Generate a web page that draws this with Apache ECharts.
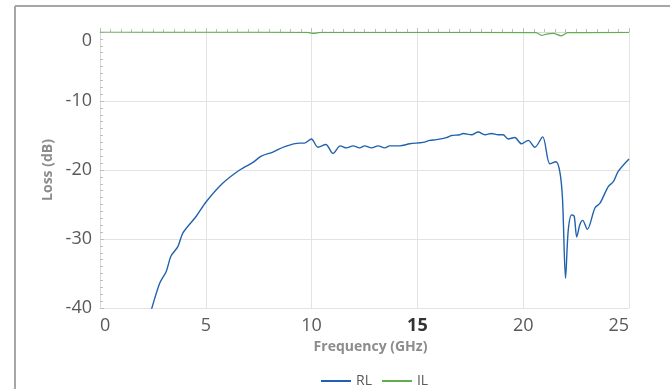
<!DOCTYPE html>
<html>
<head>
<meta charset="utf-8">
<script src="https://cdn.jsdelivr.net/npm/echarts@6/dist/echarts.min.js"></script>
<style>
  html, body { margin: 0; padding: 0; background: #fff; overflow: hidden; }
  #chart { width: 670px; height: 389px; }
</style>
</head>
<body>
<div id="chart"></div>
<script>
// RL trace (GHz, dB)
const rlFreq = [2.2, 2.45, 2.82, 3.13, 3.35, 3.68, 3.92, 4.55, 5.02, 5.81, 6.6, 7.23, 7.62, 8.17, 8.73, 9.44, 9.67,
  9.99, 10.3, 10.67, 11.01, 11.36, 11.65, 11.96, 12.27, 12.51, 12.83, 13.14, 13.46, 13.69, 14.17, 14.64, 15.27,
  15.59, 15.9, 16.38, 16.61, 17.0, 17.16, 17.56, 17.87, 18.19, 18.5, 18.82, 19.05, 19.29, 19.6, 19.92, 20.24,
  20.55, 20.92, 21.26, 21.55, 21.74, 21.86, 22.0, 22.13, 22.29, 22.41, 22.53, 22.68, 22.81, 23.03, 23.39, 23.63,
  24.02, 24.26, 24.49, 25.0]
const rlLoss = [-42.5, -40, -36.4, -34.7, -32.5, -31.1, -29.1, -26.7, -24.6, -21.9, -20.0, -18.9, -18.0, -17.4, -16.6, -16.1, -16.1,
  -15.5, -16.7, -16.3, -17.6, -16.5, -16.8, -16.5, -16.8, -16.5, -16.8, -16.5, -16.8, -16.5, -16.5, -16.2, -16.0,
  -15.7, -15.6, -15.3, -15.0, -14.9, -14.7, -14.9, -14.5, -14.9, -14.7, -14.9, -14.9, -15.5, -15.3, -16.2, -15.7,
  -16.7, -15.2, -19.1, -18.8, -20.4, -24.3, -35.7, -28.7, -26.5, -26.7, -29.7, -27.9, -27.3, -28.6, -25.5, -24.8,
  -22.4, -21.7, -20.2, -18.4]

// IL trace
const ilFreq = [0, 5, 9.8, 10.1, 10.4, 15, 20.6, 20.87, 21.1, 21.42, 21.8, 22.1, 25]
const ilLoss = [0, -0.02, -0.05, -0.2, -0.05, -0.05, -0.1, -0.5, -0.3, -0.2, -0.55, -0.1, -0.05]

const xTicks = [0, 5, 10, 15, 20, 25]
const yTicks = [-40, -30, -20, -10, 0]

const pairs = (xs, ys) => xs.map((x, i) => [x, ys[i]])

const font = "'Open Sans', 'Noto Sans', sans-serif"

const chart = echarts.init(document.getElementById('chart'), null, { renderer: 'canvas' })

// frame only shows its top and left edges in the picture
const frame = { stroke: '#a6a6a6', lineWidth: 2 }

chart.setOption({
  animation: false,
  textStyle: { fontFamily: font },
  graphic: [
    { type: 'line', shape: { x1: 15, y1: 6, x2: 670, y2: 6 }, style: frame, silent: true },
    { type: 'line', shape: { x1: 15, y1: 6, x2: 15, y2: 389 }, style: frame, silent: true }
  ],
  grid: { left: 100, top: 32, width: 529, height: 276, containLabel: false },
  legend: {
    top: 369,
    left: 316,
    icon: 'rect',
    itemWidth: 30,
    itemHeight: 2,
    itemGap: 10,
    textStyle: { color: '#595959', fontSize: 14, fontFamily: font },
    data: ['RL', 'IL']
  },
  xAxis: {
    type: 'value',
    min: xTicks[0],
    max: xTicks[xTicks.length - 1],
    interval: 5,
    name: 'Frequency (GHz)',
    nameLocation: 'middle',
    nameGap: 31,
    nameTextStyle: { color: '#8c8c8c', fontSize: 14, fontWeight: 'bold', fontFamily: font, verticalAlign: 'top', padding: [0, 0, 0, 12] },
    axisLine: { show: true, lineStyle: { color: '#d9d9d9', width: 1 } },
    axisTick: { show: true, inside: true, length: 4, lineStyle: { color: '#bfbfbf' } },
    minorTick: { show: true, splitNumber: 10, length: 3, lineStyle: { color: '#bfbfbf' } },
    splitLine: { show: true, lineStyle: { color: '#e3e3e3', width: 1 } },
    axisLabel: {
      color: '#595959',
      fontSize: 18,
      margin: 9,
      alignMinLabel: 'left',
      alignMaxLabel: 'right',
      formatter: v => v === 15 ? '{b|15}' : String(v),
      rich: { b: { fontWeight: 'bold', color: '#333', fontSize: 18, fontFamily: font } }
    }
  },
  yAxis: {
    type: 'value',
    min: yTicks[0],
    max: yTicks[yTicks.length - 1],
    interval: 10,
    name: 'Loss (dB)',
    nameLocation: 'middle',
    nameGap: 44,
    nameRotate: 90,
    nameTextStyle: { color: '#8c8c8c', fontSize: 14, fontWeight: 'bold', fontFamily: font },
    axisLine: { show: true, lineStyle: { color: '#d9d9d9', width: 1 } },
    axisTick: { show: true, inside: true, length: 4, lineStyle: { color: '#bfbfbf' } },
    minorTick: { show: true, splitNumber: 10, length: 3, lineStyle: { color: '#bfbfbf' } },
    splitLine: { show: true, lineStyle: { color: '#e3e3e3', width: 1 } },
    axisLabel: {
      color: '#595959',
      fontSize: 18,
      margin: 8,
      verticalAlignMaxLabel: 'top'
    }
  },
  series: [
    {
      name: 'RL',
      type: 'line',
      data: pairs(rlFreq, rlLoss),
      symbol: 'none',
      smooth: 0.3,
      clip: true,
      lineStyle: { color: '#2162ae', width: 1.4 },
      itemStyle: { color: '#2162ae' }
    },
    {
      name: 'IL',
      type: 'line',
      data: pairs(ilFreq, ilLoss),
      symbol: 'none',
      smooth: 0.3,
      clip: true,
      lineStyle: { color: '#62ad4f', width: 1.2 },
      itemStyle: { color: '#62ad4f' }
    }
  ]
})
</script>
</body>
</html>
